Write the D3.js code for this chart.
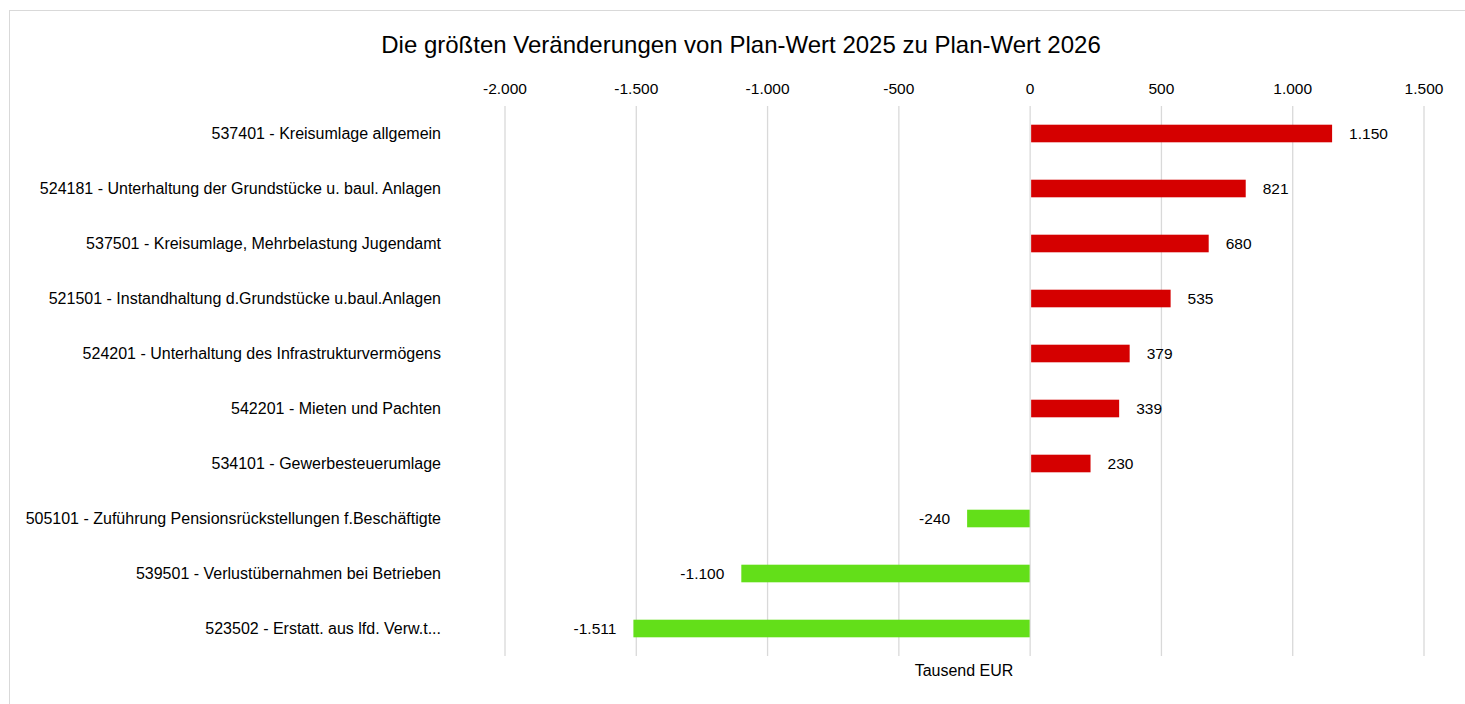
<!DOCTYPE html>
<html>
<head>
<meta charset="utf-8">
<script src="https://cdn.jsdelivr.net/npm/d3@7"></script>
<style>
  body { margin: 0; background: #fff; }
  svg text { font-family: "Liberation Sans", Arial, sans-serif; fill: #000; }
</style>
</head>
<body>
<svg class="chart"></svg>
<script>
// Veränderungen Plan-Wert 2025 -> 2026, in Tausend EUR
var categories = [
    "537401 - Kreisumlage allgemein",
    "524181 - Unterhaltung der Grundstücke u. baul. Anlagen",
    "537501 - Kreisumlage, Mehrbelastung Jugendamt",
    "521501 - Instandhaltung d.Grundstücke u.baul.Anlagen",
    "524201 - Unterhaltung des Infrastrukturvermögens",
    "542201 - Mieten und Pachten",
    "534101 - Gewerbesteuerumlage",
    "505101 - Zuführung Pensionsrückstellungen f.Beschäftigte",
    "539501 - Verlustübernahmen bei Betrieben",
    "523502 - Erstatt. aus lfd. Verw.t..."
];
var values = [1150, 821, 680, 535, 379, 339, 230, -240, -1100, -1511];
var tickValues = [-2000, -1500, -1000, -500, 0, 500, 1000, 1500];

var title = "Die größten Veränderungen von Plan-Wert 2025 zu Plan-Wert 2026";
var axisTitle = "Tausend EUR";

var width = 1465, height = 704;
var margin = {top: 106, bottom: 48, left: 505, right: 41};

var svg = d3.select(".chart")
    .attr("width", width)
    .attr("height", height);

// outer frame
svg.append("rect")
    .attr("x", 9.5).attr("y", 10.5)
    .attr("width", 1470).attr("height", 720)
    .attr("fill", "none")
    .attr("stroke", "#d9d9d9");

var x = d3.scaleLinear()
    .domain([-2000, 1500])
    .range([margin.left, width - margin.right]);

var y = d3.scaleBand()
    .domain(categories)
    .range([margin.top, height - margin.bottom])
    .paddingInner(0.68)
    .paddingOuter(0.34);

// german number format, plain hyphen as minus
var de = d3.formatLocale({decimal: ",", thousands: ".", grouping: [3], currency: ["", " €"], minus: "-"});
var fmt = de.format(",d");

// gridlines
svg.append("g").selectAll("line")
    .data(tickValues).enter().append("line")
    .attr("x1", function(d) { return x(d); })
    .attr("x2", function(d) { return x(d); })
    .attr("y1", margin.top)
    .attr("y2", height - margin.bottom)
    .attr("stroke", "#d9d9d9")
    .attr("stroke-width", 1.3);

// top axis labels
svg.append("g").selectAll("text")
    .data(tickValues).enter().append("text")
    .attr("x", function(d) { return x(d); })
    .attr("y", 94)
    .attr("text-anchor", "middle")
    .style("font-size", "15.5px")
    .text(function(d) { return fmt(d); });

// bars
svg.append("g").selectAll("rect")
    .data(values).enter().append("rect")
    .attr("x", function(d) { return d >= 0 ? x(0) + 1 : x(d); })
    .attr("y", function(d, i) { return y(categories[i]); })
    .attr("width", function(d) { return Math.abs(x(d) - x(0)) - (d >= 0 ? 1 : 0.5); })
    .attr("height", y.bandwidth())
    .attr("fill", function(d) { return d >= 0 ? "#d50000" : "#63df19"; });

// value labels
svg.append("g").selectAll("text")
    .data(values).enter().append("text")
    .attr("x", function(d) { return d >= 0 ? x(d) + 17 : x(d) - 17; })
    .attr("y", function(d, i) { return y(categories[i]) + y.bandwidth() / 2; })
    .attr("dy", "0.35em")
    .attr("text-anchor", function(d) { return d >= 0 ? "start" : "end"; })
    .style("font-size", "15.5px")
    .text(function(d) { return fmt(d); });

// category labels
svg.append("g").selectAll("text")
    .data(categories).enter().append("text")
    .attr("x", 441)
    .attr("y", function(d) { return y(d) + y.bandwidth() / 2; })
    .attr("dy", "0.35em")
    .attr("text-anchor", "end")
    .style("font-size", "16px")
    .text(function(d) { return d; });

// title
svg.append("text")
    .attr("x", 741)
    .attr("y", 53)
    .attr("text-anchor", "middle")
    .style("font-size", "24px")
    .text(title);

// axis title
svg.append("text")
    .attr("x", 964)
    .attr("y", 676)
    .attr("text-anchor", "middle")
    .style("font-size", "16px")
    .text(axisTitle);
</script>
</body>
</html>
